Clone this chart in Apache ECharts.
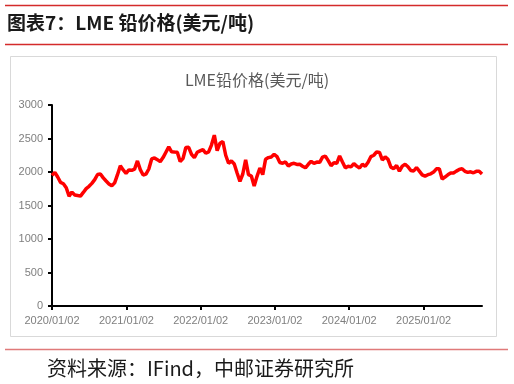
<!DOCTYPE html>
<html>
<head>
<meta charset="utf-8">
<script src="https://cdn.jsdelivr.net/npm/echarts@6/dist/echarts.min.js"></script>
<style>
html,body{margin:0;padding:0;background:#fff;}
#chart{width:514px;height:384px;}
</style>
</head>
<body>
<div id="chart"></div>
<script>
// ---- data ----
var headerTitle = '图表7：LME 铅价格(美元/吨)';
var chartTitle = 'LME铅价格(美元/吨)';
var sourceText = '资料来源：IFind，中邮证券研究所';
var startDate = [2020, 1, 2];   // first observation
var stepDays = 14;              // sampling step of the series below
var yTicks = [0, 500, 1000, 1500, 2000, 2500, 3000];
var xTickLabels = ['2020/01/02', '2021/01/02', '2022/01/02', '2023/01/02', '2024/01/02', '2025/01/02'];
var leadPrice = [
  1950, 1995, 1925, 1845, 1825, 1765, 1640, 1700, 1656, 1648,
  1640, 1695, 1752, 1786, 1830, 1886, 1963, 1970, 1912, 1865,
  1822, 1794, 1838, 1960, 2092, 2030, 1980, 2030, 2025, 2043,
  2165, 2035, 1955, 1968, 2045, 2195, 2210, 2184, 2155, 2215,
  2295, 2375, 2302, 2298, 2295, 2158, 2200, 2365, 2368, 2264,
  2213, 2294, 2316, 2335, 2280, 2300, 2402, 2550, 2320, 2430,
  2455, 2250, 2130, 2165, 2120, 1985, 1861, 1970, 2180, 1960,
  1940, 1790, 1935, 2060, 1960, 2190, 2215, 2225, 2265, 2230,
  2142, 2130, 2150, 2090, 2120, 2130, 2113, 2115, 2087, 2062,
  2115, 2160, 2128, 2148, 2145, 2222, 2238, 2170, 2095, 2137,
  2130, 2240, 2150, 2062, 2085, 2076, 2125, 2088, 2060, 2115,
  2085, 2145, 2230, 2250, 2300, 2292, 2180, 2225, 2188, 2072,
  2050, 2097, 2013, 2088, 2115, 2078, 2022, 2015, 2067, 2013,
  1958, 1938, 1960, 1973, 1999, 2047, 2050, 1895, 1925, 1958,
  1985, 1985, 2013, 2038, 2050, 2010, 1994, 2003, 1988, 2010,
  2010, 1970
];

// ---- build ----
function ts(y, m, d) { return new Date(y, m - 1, d).getTime(); }
var t0 = ts(startDate[0], startDate[1], startDate[2]);
var seriesData = leadPrice.map(function (v, i) {
  var d = new Date(startDate[0], startDate[1] - 1, startDate[2] + i * stepDays);
  return [d.getTime(), v];
});
var xMax = seriesData[seriesData.length - 1][0];
var xTickValues = xTickLabels.map(function (s) {
  var p = s.split('/').map(Number);
  return ts(p[0], p[1], p[2]);
});
function pad(n) { return n < 10 ? '0' + n : '' + n; }
function fmt(v) {
  var d = new Date(v);
  return d.getFullYear() + '/' + pad(d.getMonth() + 1) + '/' + pad(d.getDate());
}

var chart = echarts.init(document.getElementById('chart'), null, { renderer: 'canvas' });
var axisFont = '"Liberation Sans", Arial, sans-serif';
var cjk = '"Noto Sans CJK SC", sans-serif';

chart.setOption({
  animation: false,
  backgroundColor: '#ffffff',
  title: {
    text: chartTitle,
    left: 'center',
    top: 67,
    textStyle: { fontFamily: cjk, fontSize: 16, fontWeight: 'normal', color: '#595959' }
  },
  grid: { left: 52, right: 32, top: 105, bottom: 78, containLabel: false },
  xAxis: {
    type: 'value',
    min: t0,
    max: xMax,
    scale: true,
    axisLine: { show: true, onZero: false, lineStyle: { color: '#000000', width: 2 } },
    axisTick: { show: true, length: 4, lineStyle: { color: '#000000', width: 2 }, customValues: xTickValues },
    axisLabel: {
      customValues: xTickValues,
      formatter: function (v) { return fmt(v); },
      color: '#7f7f7f', fontSize: 11, fontFamily: axisFont, margin: 9
    },
    splitLine: { show: false }
  },
  yAxis: {
    type: 'value',
    min: yTicks[0],
    max: yTicks[yTicks.length - 1],
    interval: yTicks[1] - yTicks[0],
    axisLine: { show: true, lineStyle: { color: '#000000', width: 2 } },
    axisTick: { show: true, length: 4, lineStyle: { color: '#000000', width: 2 } },
    axisLabel: { color: '#7f7f7f', fontSize: 11, fontFamily: axisFont, margin: 9, formatter: function (v) { return String(v); } },
    splitLine: { show: false }
  },
  series: [{
    type: 'line',
    data: seriesData,
    showSymbol: false,
    symbol: 'none',
    lineStyle: { color: '#ff0000', width: 3.5 },
    itemStyle: { color: '#ff0000' }
  }],
  graphic: [
    { type: 'line', shape: { x1: 5, y1: 5.5, x2: 508, y2: 5.5 }, style: { stroke: '#d42b2b', lineWidth: 1.5 } },
    { type: 'text', left: 7, top: 13, style: { text: headerTitle, fontFamily: cjk, fontSize: 19, fontWeight: 'bold', fill: '#1a1a1a' } },
    { type: 'line', shape: { x1: 5, y1: 44.5, x2: 508, y2: 44.5 }, style: { stroke: '#d42b2b', lineWidth: 1.5 } },
    { type: 'rect', shape: { x: 10.5, y: 56.5, width: 486, height: 280 }, style: { fill: 'none', stroke: '#d9d9d9', lineWidth: 1 }, z: -1 },
    { type: 'line', shape: { x1: 5, y1: 349.5, x2: 508, y2: 349.5 }, style: { stroke: '#e07a7a', lineWidth: 1.5 } },
    { type: 'text', left: 47, top: 358, style: { text: sourceText, fontFamily: cjk, fontSize: 20, fill: '#1a1a1a' } }
  ]
});
</script>
</body>
</html>
